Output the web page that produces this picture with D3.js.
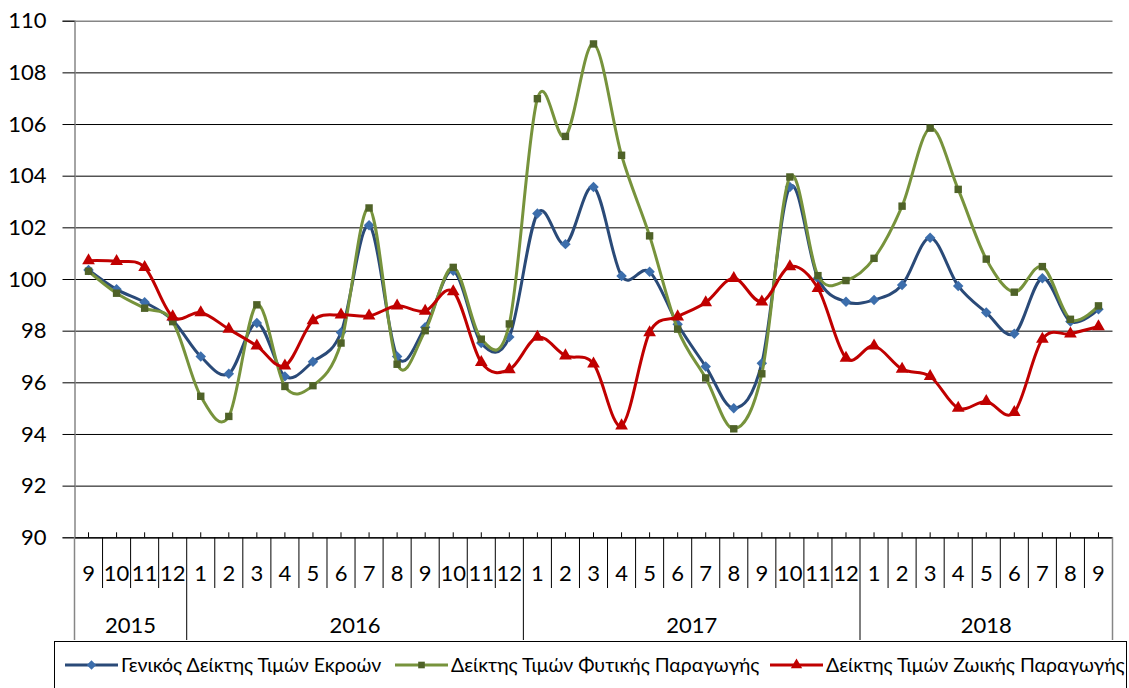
<!DOCTYPE html>
<html>
<head>
<meta charset="utf-8">
<script src="https://cdn.jsdelivr.net/npm/d3@7"></script>
<style>
  body { margin: 0; background: #fff; }
  svg { display: block; font-family: Lato, "Open Sans", sans-serif; }
</style>
</head>
<body>
<div id="chart"></div>
<script>
// months from 9/2015 to 9/2018
const years = [2015, 2016, 2017, 2018];
const months = [9, 10, 11, 12,
  1, 2, 3, 4, 5, 6, 7, 8, 9, 10, 11, 12,
  1, 2, 3, 4, 5, 6, 7, 8, 9, 10, 11, 12,
  1, 2, 3, 4, 5, 6, 7, 8, 9];
const monthYears = [2015, 2015, 2015, 2015,
  2016, 2016, 2016, 2016, 2016, 2016, 2016, 2016, 2016, 2016, 2016, 2016,
  2017, 2017, 2017, 2017, 2017, 2017, 2017, 2017, 2017, 2017, 2017, 2017,
  2018, 2018, 2018, 2018, 2018, 2018, 2018, 2018, 2018];

const generalIndex = [100.35, 99.6, 99.1, 98.4,
  97.0, 96.33, 98.3, 96.23, 96.8, 97.93, 102.08, 97.0, 98.13, 100.32, 97.52, 97.75,
  102.54, 101.35, 103.56, 100.12, 100.28, 98.25, 96.61, 95.0, 96.74, 103.56, 100.03, 99.12,
  99.19, 99.77, 101.6, 99.73, 98.7, 97.88, 100.03, 98.35, 98.83];
const cropIndex = [100.3, 99.45, 98.87, 98.35,
  95.46, 94.68, 99.0, 95.84, 95.87, 97.52, 102.75, 96.7, 98.0, 100.45, 97.67, 98.26,
  106.98, 105.52, 109.1, 104.79, 101.67, 98.06, 96.17, 94.2, 96.33, 103.95, 100.13, 99.94,
  100.8, 102.82, 105.84, 103.47, 100.77, 99.49, 100.48, 98.44, 98.96];
const livestockIndex = [100.71, 100.68, 100.45, 98.54,
  98.7, 98.06, 97.41, 96.64, 98.39, 98.61, 98.57, 98.96, 98.76, 99.51, 96.77, 96.49,
  97.75, 97.03, 96.72, 94.32, 97.93, 98.54, 99.09, 100.03, 99.12, 100.48, 99.64, 96.94,
  97.41, 96.51, 96.23, 95.0, 95.26, 94.84, 97.67, 97.88, 98.16];

const yTicks = [90, 92, 94, 96, 98, 100, 102, 104, 106, 108, 110];

const series = [
  {name: "Γενικός Δείκτης Τιμών Εκροών", values: generalIndex, line: "#2a4a78", marker: "#3c6eac", symbol: d3.symbolDiamond2, size: 70},
  {name: "Δείκτης Τιμών Φυτικής Παραγωγής", values: cropIndex, line: "#77933c", marker: "#4f6228", symbol: d3.symbolSquare, size: 55},
  {name: "Δείκτης Τιμών Ζωικής Παραγωγής", values: livestockIndex, line: "#c00000", marker: "#c00000", symbol: d3.symbolTriangle, size: 70}
];

const W = 1129, H = 688;
const plot = {left: 74.5, right: 1112.5, top: 20.7, bottom: 537.3};
const legendX = [65, 395, 770];

const svg = d3.select("#chart").append("svg")
  .attr("width", W).attr("height", H);

const keys = months.map((m, i) => monthYears[i] + "-" + m);
const x = d3.scaleBand().domain(keys).range([plot.left, plot.right]);
const y = d3.scaleLinear().domain([90, 110]).range([plot.bottom, plot.top]);
const cx = i => x(keys[i]) + x.bandwidth() / 2;

// gridlines
svg.append("g")
  .attr("transform", `translate(${plot.left},0)`)
  .call(d3.axisLeft(y).tickValues(yTicks).tickSize(-(plot.right - plot.left)).tickFormat(""))
  .call(g => g.select(".domain").remove())
  .call(g => g.selectAll(".tick line").attr("stroke", "#000").attr("stroke-width", 1))
  .call(g => g.selectAll(".tick").filter(d => d === 110).select("line").attr("stroke", "#868686").attr("stroke-width", 1.5));

// y axis with labels
svg.append("g")
  .attr("transform", `translate(${plot.left},0)`)
  .call(d3.axisLeft(y).tickValues(yTicks).tickSize(12).tickPadding(16))
  .call(g => g.select(".domain").attr("stroke", "#868686").attr("stroke-width", 1.5))
  .call(g => g.selectAll(".tick line").attr("stroke", "#000"))
  .call(g => g.selectAll("text").attr("font-size", 22).attr("fill", "#000").attr("font-family", "Lato"));

// x axis line and small ticks at category centres
svg.append("g")
  .attr("transform", `translate(0,${plot.bottom})`)
  .call(d3.axisTop(x).tickSize(5).tickSizeOuter(0).tickFormat(""))
  .call(g => g.select(".domain").attr("stroke", "#000").attr("stroke-width", 1.2))
  .call(g => g.selectAll(".tick line").attr("stroke", "#000"));

// month labels
svg.append("g")
  .attr("transform", `translate(0,${plot.bottom})`)
  .call(d3.axisBottom(x).tickSize(0).tickPadding(28).tickFormat((d, i) => months[i]))
  .call(g => g.select(".domain").remove())
  .call(g => g.selectAll("text").attr("font-size", 22).attr("fill", "#000").attr("font-family", "Lato"));

// category separators
const yearStarts = keys.map((k, i) => i).filter(i => i === 0 || monthYears[i] !== monthYears[i - 1]);
const boundaries = d3.range(keys.length + 1);
svg.append("g").selectAll("line")
  .data(boundaries)
  .join("line")
  .attr("x1", i => i < keys.length ? x(keys[i]) : plot.right)
  .attr("x2", i => i < keys.length ? x(keys[i]) : plot.right)
  .attr("y1", plot.bottom)
  .attr("y2", i => (yearStarts.includes(i) || i === keys.length) ? 640 : 588)
  .attr("stroke", i => (i === 0 || i === keys.length) ? "#868686" : "#000")
  .attr("stroke-width", i => (i === 0 || i === keys.length) ? 1.5 : 1);

// year labels
svg.append("g").selectAll("text")
  .data(years)
  .join("text")
  .attr("x", yr => {
    const idx = d3.range(keys.length).filter(i => monthYears[i] === yr);
    return (x(keys[idx[0]]) + x(keys[idx[idx.length - 1]]) + x.bandwidth()) / 2;
  })
  .attr("y", 632.5)
  .attr("text-anchor", "middle")
  .attr("font-size", 22)
  .text(yr => yr);

// series
const line = d3.line()
  .x((d, i) => cx(i))
  .y(d => y(d))
  .curve(d3.curveCardinal.tension(0));

series.forEach(s => {
  const g = svg.append("g");
  g.append("path")
    .attr("d", line(s.values))
    .attr("fill", "none")
    .attr("stroke", s.line)
    .attr("stroke-width", 3)
    .attr("stroke-linejoin", "round");
  g.selectAll("path.mk")
    .data(s.values)
    .join("path")
    .attr("class", "mk")
    .attr("transform", (d, i) => `translate(${cx(i)},${y(d)})`)
    .attr("d", d3.symbol(s.symbol, s.size))
    .attr("fill", s.marker);
});

// legend
const legend = svg.append("g");
legend.append("rect")
  .attr("x", 54.5).attr("y", 641.5)
  .attr("width", 1072).attr("height", 60)
  .attr("fill", "#fff").attr("stroke", "#000").attr("stroke-width", 1);

series.forEach((s, k) => {
  const lx = legendX[k];
  const item = legend.append("g");
  item.append("line")
    .attr("x1", lx).attr("x2", lx + 53)
    .attr("y1", 665).attr("y2", 665)
    .attr("stroke", s.line).attr("stroke-width", 3);
  item.append("path")
    .attr("transform", `translate(${lx + 26.5},665)`)
    .attr("d", d3.symbol(s.symbol, s.size * 0.8))
    .attr("fill", s.marker);
  item.append("text")
    .attr("x", lx + 56).attr("y", 671.5)
    .attr("font-size", 19.5)
    .text(s.name);
});
</script>
</body>
</html>
